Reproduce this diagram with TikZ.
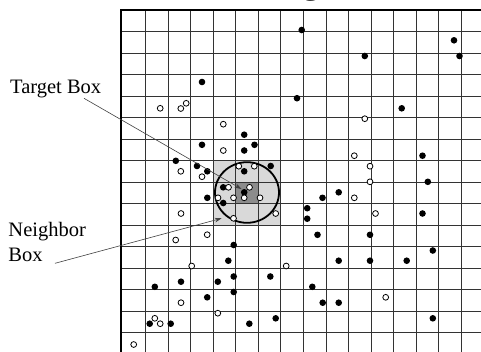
\documentclass[tikz,border=0pt]{standalone}
\usepackage{fontspec}
\setmainfont{Liberation Serif}
\usetikzlibrary{arrows.meta}
\begin{document}
\begin{tikzpicture}[x=1pt,y=-1pt,
  gridline/.style={black!80,line width=0.7pt},
  frameline/.style={black,line width=2.6pt,line join=miter},
  lbl/.style={font=\fontsize{20.5}{25}\selectfont,inner sep=0pt},
  pointer/.style={black!75,line width=0.6pt,-{Stealth[length=7pt,width=4.5pt]}},
  fdot/.style={fill=black},
  odot/.style={fill=white,draw=black,line width=0.8pt}]
\useasboundingbox (0,0) rectangle (481,351);
% title fragment
\node[font=\fontsize{36}{40}\selectfont,inner sep=0pt,anchor=base] (title) at (311,-6.8) {g};
% shaded boxes
\fill[black!15] (213.3,160.7) rectangle (280.8,225.2);
\fill[black!45] (235.8,182.2) rectangle (258.3,203.7);
% grid
\foreach \i in {1,...,15} \draw[gridline] ({123.2+22.52*\i},10) -- ({123.2+22.52*\i},352);
\foreach \j in {1,...,15} \draw[gridline] (121,{10.2+21.5*\j}) -- (482,{10.2+21.5*\j});
\draw[frameline] (121,352) -- (121,10) -- (482,10);
% circle
\draw[line width=1.8pt] (247,192.5) ellipse [x radius=32pt, y radius=30.3pt];
% filled points
\foreach \p in {(301.7,30),(364.8,56),(454,40.3),(459.5,56),(202,82),(297,98.2),(401.7,108.3),
 (244.2,134.7),(202,144.8),(244.2,150.5),(254.5,144.8),(175.8,160.8),(197,166),(207.3,171.3),(244.2,171.3),(270.7,166),(223.2,187.3),(244.2,192.3),(207.3,197.8),(223.2,203),
 (322.5,197.8),(338.7,192.3),(307.2,208.2),(307.2,218.7),(422.5,213.5),(422.5,155.7),(427.8,181.8),
 (317.5,234.8),(370,234.8),(233.7,245),(432.8,250.5),(228.3,260.7),(338.7,260.7),(370,260.7),(406.7,260.7),(154.8,286.8),(181,281.7),(217.8,281.7),(233.7,276.5),(270.3,276.5),(312.3,286.8),(207.2,297.3),(233.7,292),(322.7,302.7),(338.7,302.7),(149.7,323.7),(170.7,323.7),(249.3,323.7),(275.7,318.3),(432.8,318.3)}
  \fill[fdot] \p circle[radius=3.3pt];
% open points
\foreach \p in {(160.2,108.3),(180.8,108.5),(186.2,103.3),(364.8,118.7),(223.3,124.2),(223.3,150.5),(180.8,171.3),(202,176.7),(238.8,166.2),(254.3,166.2),(228.5,187.3),(249.5,187.3),(218,197.8),(233.5,197.8),(244.2,197.8),(260,197.8),(181,213.5),(233.5,218.3),(275.7,213.5),(354.3,155.7),(370,166.2),(370,181.8),(354.3,197.8),(375.5,213.5),(175.7,240),(207.2,234.7),(191.7,266),(286.2,266),(181,302.7),(385.7,297.3),(217.8,313.2),(154.8,318.3),(160.2,323.7),(133.7,344.5)}
  \filldraw[odot] \p circle[radius=2.9pt];
% labels
\node[lbl,anchor=base west] (tb) at (10,93.5) {Target Box};
\node[lbl,anchor=north west,align=left] (nb) at (8.3,222.5) {Neighbor\\Box};
\coordinate (ts) at (84,98.3);
\coordinate (tt) at (241.5,189);
\coordinate (ns) at (55,263.3);
\coordinate (nt) at (221.7,218.3);
\draw[pointer] (ts) -- (tt);
\draw[pointer] (ns) -- (nt);
\end{tikzpicture}
\end{document}
